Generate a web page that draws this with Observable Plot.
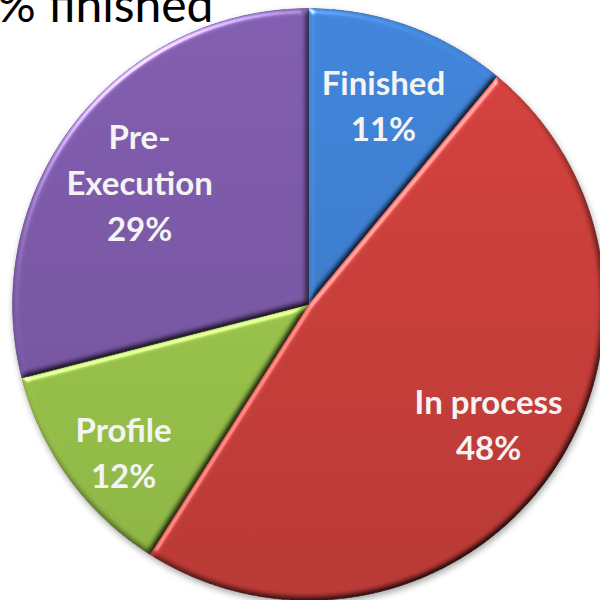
<!DOCTYPE html>
<html>
<head>
<meta charset="utf-8">
<script src="https://cdn.jsdelivr.net/npm/d3@7"></script>
<script src="https://cdn.jsdelivr.net/npm/@observablehq/plot@0.6"></script>
<style>
  html, body { margin: 0; padding: 0; background: #fff; overflow: hidden; }
  .pie-wrap { filter: drop-shadow(1px 3px 3px rgba(0,0,0,0.35)); }
</style>
</head>
<body>
<div id="chart"></div>
<script>
// ---- data ----
const title = "% finished";
const categories = ["Finished", "In process", "Profile", "Pre-Execution"];
const labelTexts = ["Finished", "In process", "Profile", "Pre-\nExecution"];
const shares = [11, 48, 12, 29];
const baseColors = ["#3d7ed1", "#cc3e3a", "#9bc64b", "#7c59a8"];

// ---- layout (label placement in polar terms, angle clockwise from 12 o'clock) ----
const labelPlacement = [
  {angle: 20.4, r: 0.726},
  {angle: 123.2, r: 0.727},
  {angle: 231.8, r: 0.795},
  {angle: 306.4, r: 0.709}
];

const total = d3.sum(shares);
const rad = Math.PI / 180;
let acc = 0;
const slices = categories.map((name, i) => {
  const a0 = acc / total * 360;
  acc += shares[i];
  const a1 = acc / total * 360;
  const pts = [{x: 0, y: 0}];
  const n = Math.max(2, Math.ceil((a1 - a0) / 0.5));
  for (let k = 0; k <= n; k++) {
    const a = (a0 + (a1 - a0) * k / n) * rad;
    pts.push({x: Math.sin(a), y: Math.cos(a)});
  }
  pts.push({x: 0, y: 0});
  return {name, i, a0, a1, pts};
});

const labels = categories.map((name, i) => {
  const p = labelPlacement[i];
  const a = p.angle * rad;
  return {
    text: labelTexts[i] + "\n" + shares[i] + "%",
    x: p.r * Math.sin(a),
    y: p.r * Math.cos(a)
  };
});

const chart = Plot.plot({
  width: 600,
  height: 600,
  margin: 0,
  x: {domain: [-1, 1], range: [12, 604], axis: null},
  y: {domain: [-1, 1], range: [600, 8], axis: null},
  style: {overflow: "hidden", background: "white"},
  marks: [
    ...slices.map(s => Plot.line(s.pts, {
      x: "x", y: "y",
      fill: `url(#grad${s.i})`,
      stroke: d3.color(baseColors[s.i]).darker(0.9).formatHex(),
      strokeWidth: 0.8,
      curve: "linear",
      className: "slice"
    })),
    Plot.text(labels, {x: "x", y: "y", text: "text", fill: "#f4f4f4", fontSize: 33, fontWeight: 700, fontFamily: "Lato", lineHeight: 1.39}),
    Plot.text([title], {frameAnchor: "top-left", dx: 213, dy: 21, textAnchor: "end", lineAnchor: "bottom", fontSize: 48, fontFamily: "Lato", fill: "#000"})
  ]
});

// gradients (lighter at top, darker at bottom) and a soft bevel filter
const svg = d3.select(chart);
const defs = svg.insert("defs", ":first-child");
baseColors.forEach((c, i) => {
  const g = defs.append("linearGradient")
    .attr("id", "grad" + i)
    .attr("gradientUnits", "userSpaceOnUse")
    .attr("x1", 0).attr("y1", 8).attr("x2", 0).attr("y2", 600);
  g.append("stop").attr("offset", 0).attr("stop-color", d3.color(c).brighter(0.12).formatHex());
  g.append("stop").attr("offset", 1).attr("stop-color", d3.color(c).darker(0.3).formatHex());
});
const f = defs.append("filter").attr("id", "bevel")
  .attr("x", "-5%").attr("y", "-5%").attr("width", "110%").attr("height", "110%")
  .attr("color-interpolation-filters", "sRGB");
f.append("feGaussianBlur").attr("in", "SourceAlpha").attr("stdDeviation", 3).attr("result", "blur");
const dl = f.append("feDiffuseLighting").attr("in", "blur").attr("surfaceScale", 3)
  .attr("diffuseConstant", 1 / Math.sin(45 * rad)).attr("lighting-color", "#fff").attr("result", "diff");
dl.append("feDistantLight").attr("azimuth", 235).attr("elevation", 45);
f.append("feComposite").attr("in", "SourceGraphic").attr("in2", "diff")
  .attr("operator", "arithmetic").attr("k1", 1).attr("k2", 0).attr("k3", 0).attr("k4", 0).attr("result", "shaded");
const sl = f.append("feSpecularLighting").attr("in", "blur").attr("surfaceScale", 3)
  .attr("specularConstant", 0.7).attr("specularExponent", 40).attr("lighting-color", "#fff").attr("result", "spec");
sl.append("feDistantLight").attr("azimuth", 235).attr("elevation", 40);
f.append("feComposite").attr("in", "spec").attr("in2", "SourceAlpha").attr("operator", "in").attr("result", "specIn");
f.append("feComposite").attr("in", "shaded").attr("in2", "specIn")
  .attr("operator", "arithmetic").attr("k1", 0).attr("k2", 1).attr("k3", 0.8).attr("k4", 0).attr("result", "lit");
f.append("feComposite").attr("in", "lit").attr("in2", "SourceAlpha").attr("operator", "in");

const sliceGroups = svg.selectAll("g.slice").nodes();
if (sliceGroups.length) {
  const wrap = svg.insert("g", () => sliceGroups[0]).attr("class", "pie-wrap");
  for (const g of sliceGroups) {
    d3.select(g).attr("filter", "url(#bevel)");
    wrap.node().appendChild(g);
  }
}
document.getElementById("chart").appendChild(chart);
</script>
</body>
</html>
